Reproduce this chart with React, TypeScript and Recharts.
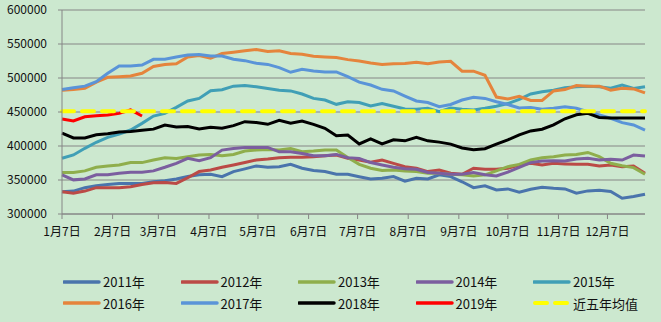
import React from 'react';
import { LineChart, Line, XAxis, YAxis, CartesianGrid } from 'recharts';

// day offsets from Jan 7 for the month labels
const monthTicks = [0, 31, 59, 90, 120, 151, 181, 212, 243, 273, 304, 334];
const monthLabels = ['1月7日', '2月7日', '3月7日', '4月7日', '5月7日', '6月7日', '7月7日', '8月7日', '9月7日', '10月7日', '11月7日', '12月7日'];
const yTicks = [300000, 350000, 400000, 450000, 500000, 550000, 600000];

// weekly observations, one per 7 days starting Jan 7
const weeks = Array.from({ length: 52 }, (_, i) => i * 7);

const s2011 = [332800, 333700, 338700, 341500, 343500, 345000, 345000, 345000, 347400, 348800, 351500, 355000, 357600, 358500, 355000, 362400, 366400, 370600, 368700, 369600, 373000, 367300, 364000, 362400, 358500, 358500, 354900, 351500, 352500, 355000, 348300, 352500, 351500, 357600, 355000, 347400, 338700, 341500, 335400, 336900, 332000, 336400, 339300, 337900, 336900, 330600, 334000, 335000, 333000, 323200, 325600, 329000];
const s2012 = [332800, 330400, 333700, 338700, 338700, 338700, 340000, 343500, 346000, 346400, 345000, 353300, 362400, 364800, 368700, 372100, 375600, 379400, 380900, 382800, 383300, 383300, 384300, 385700, 386700, 381800, 379400, 376000, 379400, 374500, 369600, 367300, 362400, 364800, 360000, 358500, 367300, 365800, 365800, 367300, 372100, 374500, 372100, 374500, 373600, 373000, 373000, 370600, 372100, 369600, 370600, 360000];
const s2013 = [361000, 361000, 363400, 368700, 370600, 372100, 375600, 375600, 379400, 382800, 381800, 384300, 386700, 387600, 385700, 387600, 392500, 394000, 395000, 394000, 396400, 391500, 392500, 394000, 394000, 383000, 373000, 367300, 364000, 364800, 363400, 362400, 360000, 360000, 358500, 357600, 356000, 357600, 363400, 369600, 373000, 379400, 382800, 384300, 386700, 387600, 390500, 384300, 374500, 371100, 368200, 358500];
const s2014 = [357600, 350200, 351500, 357600, 357600, 360000, 361500, 361500, 363400, 368700, 374500, 381800, 378400, 382800, 394000, 396400, 397900, 397900, 397900, 391500, 391500, 389100, 385700, 385700, 387600, 382800, 381800, 375600, 372100, 368700, 366400, 365800, 361000, 360000, 358500, 358500, 361000, 357600, 356000, 361500, 368700, 375600, 377900, 378400, 377900, 380900, 381800, 379400, 380400, 379400, 386700, 385300];
const s2015 = [382000, 386800, 396600, 405500, 412800, 417600, 423500, 433300, 444000, 448000, 456800, 466200, 470000, 481300, 482800, 488000, 489000, 487000, 484500, 482000, 481000, 476500, 470000, 467600, 461300, 465000, 464000, 459000, 462400, 458500, 454400, 454000, 455500, 450500, 456000, 454000, 453000, 455500, 458500, 462400, 468700, 476500, 479700, 482000, 485700, 487000, 488000, 487000, 485000, 489700, 484500, 487000];
const s2016 = [482000, 483000, 485000, 494000, 501000, 502000, 503000, 507000, 517000, 520000, 521000, 531000, 533000, 529000, 536000, 538000, 540000, 542000, 539000, 540000, 536000, 535000, 532000, 531000, 530000, 527000, 525000, 522000, 520000, 521000, 521500, 523000, 521000, 523500, 524500, 510000, 510000, 504000, 472000, 469000, 473000, 467000, 467000, 481000, 483000, 489000, 488000, 488000, 482000, 485000, 484000, 478000];
const s2017 = [483000, 485700, 488000, 494500, 507000, 517600, 517600, 519000, 527500, 527500, 531000, 533800, 534500, 532300, 532300, 527500, 525500, 521600, 520000, 515200, 508400, 512800, 510300, 509000, 509000, 502000, 494000, 489700, 483300, 481000, 473500, 466200, 464000, 457800, 461000, 467600, 471600, 470000, 465000, 461000, 456000, 456500, 454000, 455500, 457800, 455500, 450500, 445600, 440800, 434300, 431000, 423500];
const s2018 = [419000, 411800, 411800, 416500, 418000, 420600, 421500, 423000, 424800, 430900, 427800, 428800, 425000, 427400, 426000, 430000, 435800, 434400, 431900, 437800, 433400, 436800, 431900, 426000, 415200, 416000, 403000, 410300, 403000, 409000, 407600, 412800, 407600, 405700, 402800, 397000, 394600, 396000, 402800, 409000, 416300, 422200, 424600, 431000, 440000, 446000, 448000, 442000, 441000, 441000, 441000, 441000];
const s2019 = [439700, 436800, 443000, 444500, 445500, 448000, 453000, 444100];
const avgFiveYear = 451000;

const series = [
  { key: 'y2011', name: '2011年', color: '#4a74ac', values: s2011 },
  { key: 'y2012', name: '2012年', color: '#bb4a46', values: s2012 },
  { key: 'y2013', name: '2013年', color: '#8fae4c', values: s2013 },
  { key: 'y2014', name: '2014年', color: '#7b5e9f', values: s2014 },
  { key: 'y2015', name: '2015年', color: '#409fb6', values: s2015 },
  { key: 'y2016', name: '2016年', color: '#e5843c', values: s2016 },
  { key: 'y2017', name: '2017年', color: '#5a94d8', values: s2017 },
  { key: 'y2018', name: '2018年', color: '#000000', values: s2018 },
  { key: 'y2019', name: '2019年', color: '#ff0000', values: s2019 },
];

const data = weeks.map((day, i) => {
  const row: Record<string, number | undefined> = { day, avg: avgFiveYear };
  series.forEach(s => { row[s.key] = s.values[i]; });
  return row;
});

const FONT = '"Noto Sans CJK SC", "Noto Sans", sans-serif';
const BG = '#cce8cf';

const LegendBox = () => {
  const items = [...series.map(s => ({ name: s.name, color: s.color, dashed: false })), { name: '近五年均值', color: '#ffff00', dashed: true }];
  return (
    <div style={{ position: 'absolute', left: 63, top: 271, display: 'grid', gridTemplateColumns: 'repeat(5, 117.5px)', fontFamily: FONT, fontSize: 13, color: '#111' }}>
      {items.map(it => (
        <div key={it.name} style={{ display: 'flex', alignItems: 'center', height: 21.6 }}>
          <svg width={38} height={8} style={{ marginRight: 2 }}>
            {it.dashed
              ? <line x1={2} y1={4} x2={36} y2={4} stroke={it.color} strokeWidth={4} strokeDasharray="12 8" strokeLinecap="round" />
              : <line x1={1} y1={4} x2={36} y2={4} stroke={it.color} strokeWidth={3.5} strokeLinecap="round" />}
          </svg>
          <span>{it.name}</span>
        </div>
      ))}
    </div>
  );
};

export default function App() {
  return (
    <div style={{ position: 'absolute', left: 0, top: 0, width: 661, height: 322, background: BG, overflow: 'hidden' }}>
      <LineChart width={661} height={322} data={data} margin={{ top: 10, right: 16, bottom: 0, left: 0 }}>
        <CartesianGrid vertical={false} stroke="#868686" />
        <XAxis
          dataKey="day"
          type="number"
          domain={[0, 357]}
          ticks={monthTicks}
          tickFormatter={(v: number) => monthLabels[monthTicks.indexOf(v)]}
          height={108}
          stroke="#868686"
          tickSize={5}
          tickMargin={8}
          interval={0}
          tick={{ fill: '#111', fontSize: 12, fontFamily: FONT }}
        />
        <YAxis
          domain={[300000, 600000]}
          ticks={yTicks}
          width={62}
          stroke="#868686"
          tickSize={4}
          tickMargin={11}
          interval={0}
          tick={{ fill: '#111', fontSize: 12, fontFamily: FONT }}
        />
        {series.map(s => (
          <Line
            key={s.key}
            dataKey={s.key}
            name={s.name}
            stroke={s.color}
            strokeWidth={s.key === 'y2018' ? 3 : 3}
            dot={false}
            type="linear"
            isAnimationActive={false}
          />
        ))}
        <Line dataKey="avg" name="近五年均值" stroke="#ffff00" strokeWidth={4} strokeDasharray="12 8" strokeLinecap="round" dot={false} isAnimationActive={false} />
      </LineChart>
      <LegendBox />
    </div>
  );
}
